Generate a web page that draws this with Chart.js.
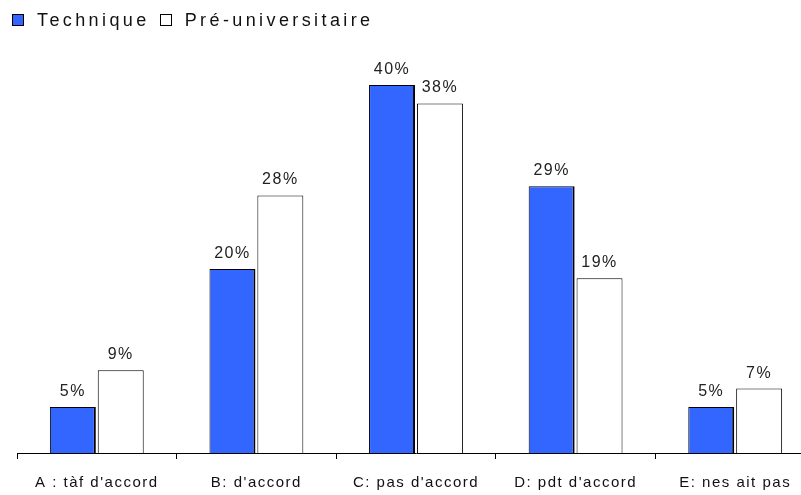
<!DOCTYPE html>
<html>
<head>
<meta charset="utf-8">
<script src="https://cdn.jsdelivr.net/npm/chart.js@4/dist/chart.umd.min.js"></script>
<style>
  html, body { margin: 0; padding: 0; background: #fff; overflow: hidden; }
  #wrap { position: relative; width: 830px; height: 507px; }
  #legend { position: absolute; left: 12px; top: 10px; font: 18px 'Liberation Sans', Arial, sans-serif;
            letter-spacing: 3.4px; color: #111; white-space: nowrap; }
  #legend span.box { display: inline-block; width: 10px; height: 10px; border: 1px solid #000;
                     vertical-align: 0px; margin-right: 13px; }
  #legend span.item { margin-right: 10px; }
</style>
</head>
<body>
<div id="wrap">
  <canvas id="surveyChart" width="830" height="507"></canvas>
  <div id="legend"></div>
</div>
<script>
const categories = ["A : tàf d'accord", "B: d'accord", "C: pas d'accord", "D: pdt d'accord", "E: nes ait pas"];
const technique = [5, 20, 40, 29, 5];
const preUniversitaire = [9, 28, 38, 19, 7];
const seriesNames = ['Technique', 'Pré-universitaire'];
const seriesColors = ['#3366ff', '#ffffff'];

const fontFamily = "'Liberation Sans', Arial, sans-serif";

// old-style spaced text everywhere on the canvas
const spacing = {
    id: 'spacing',
    beforeUpdate(chart) { chart.ctx.letterSpacing = '1.5px'; },
    beforeDraw(chart) { chart.ctx.letterSpacing = '1.5px'; }
};

// writes the % value over each bar
const valueLabels = {
    id: 'valueLabels',
    afterDatasetsDraw(chart) {
        const ctx = chart.ctx;
        ctx.save();
        ctx.font = '16px ' + fontFamily;
        ctx.fillStyle = '#222';
        ctx.textAlign = 'center';
        ctx.textBaseline = 'alphabetic';
        chart.data.datasets.forEach((ds, i) => {
            chart.getDatasetMeta(i).data.forEach((bar, j) => {
                ctx.fillText(ds.data[j] + '%', bar.x, bar.y - 11);
            });
        });
        ctx.restore();
    }
};

const ctx = document.getElementById('surveyChart').getContext('2d');
const surveyChart = new Chart(ctx, {
    type: 'bar',
    data: {
        labels: categories,
        datasets: [
            {
                label: seriesNames[0],
                data: technique,
                backgroundColor: seriesColors[0],
                borderColor: '#000',
                borderWidth: { left: 1, top: 1, right: 2, bottom: 0 }
            },
            {
                label: seriesNames[1],
                data: preUniversitaire,
                backgroundColor: seriesColors[1],
                borderColor: '#000',
                borderWidth: { left: 1, top: 1, right: 1, bottom: 0 }
            }
        ]
    },
    options: {
        responsive: false,
        animation: false,
        layout: { padding: { left: 17, right: 15, top: 39, bottom: 0 } },
        datasets: {
            bar: { categoryPercentage: 0.6, barPercentage: 0.96 }
        },
        plugins: {
            tooltip: { enabled: false },
            legend: { display: false }
        },
        scales: {
            x: {
                grid: {
                    offset: true,
                    drawOnChartArea: false,
                    drawTicks: true,
                    tickLength: 6,
                    color: '#000'
                },
                border: { display: true, color: '#000', width: 1 },
                ticks: {
                    color: '#111',
                    padding: 15,
                    maxRotation: 0,
                    font: { size: 15, family: fontFamily }
                }
            },
            y: {
                display: false,
                min: 0,
                max: 45
            }
        }
    },
    plugins: [spacing, valueLabels]
});

// legend as plain html, same look as the old office chart
const legend = document.getElementById('legend');
seriesNames.forEach((name, i) => {
    const item = document.createElement('span');
    item.className = 'item';
    const box = document.createElement('span');
    box.className = 'box';
    box.style.background = seriesColors[i];
    item.appendChild(box);
    item.appendChild(document.createTextNode(name));
    legend.appendChild(item);
});
</script>
</body>
</html>
